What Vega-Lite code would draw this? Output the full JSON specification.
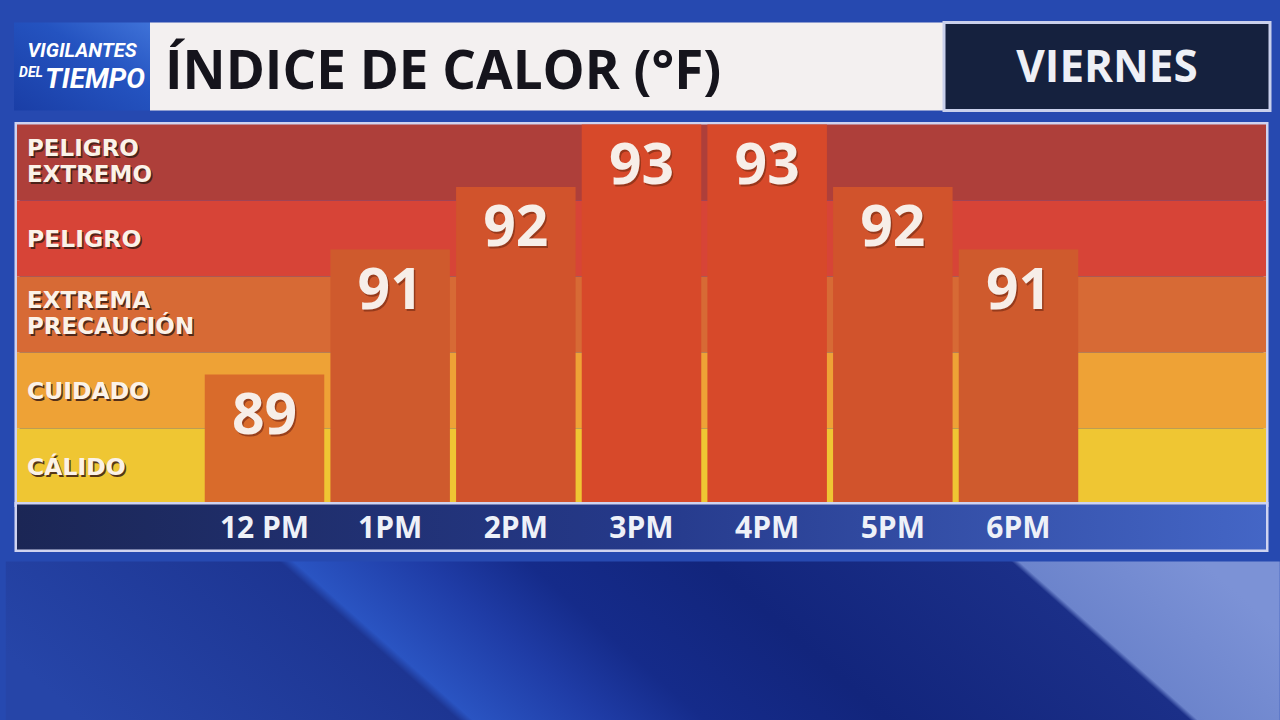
{
  "$schema": "https://vega.github.io/schema/vega-lite/v6.json",
  "background": "#2649b0",
  "padding": {"left": 5.75, "top": 20.5, "right": 0.25, "bottom": 0.5},
  "config": {"view": {"stroke": null}, "font": "Open Sans"},
  "datasets": {
    "horas": [
      {"hora": "12 PM", "indice": 89},
      {"hora": "1PM", "indice": 91},
      {"hora": "2PM", "indice": 92},
      {"hora": "3PM", "indice": 93},
      {"hora": "4PM", "indice": 93},
      {"hora": "5PM", "indice": 92},
      {"hora": "6PM", "indice": 91}
    ],
    "niveles": [
      {"nivel": "PELIGRO EXTREMO"},
      {"nivel": "PELIGRO"},
      {"nivel": "EXTREMA PRECAUCIÓN"},
      {"nivel": "CUIDADO"},
      {"nivel": "CÁLIDO"}
    ],
    "uno": [{"k": 1}]
  },
  "spacing": 9,
  "center": true,
  "vconcat": [
    {
      "spacing": 0,
      "bounds": "flush",
      "hconcat": [
        {
          "width": 136,
          "height": 88,
          "data": {"name": "uno"},
          "layer": [
            {"mark": {"type": "rect", "color": {"gradient": "linear", "x1": 0, "y1": 1, "x2": 1, "y2": 0, "stops": [{"offset": 0, "color": "#1a3ea6"}, {"offset": 0.6, "color": "#2453c0"}, {"offset": 1, "color": "#3f72d8"}]}}, "encoding": {}},
            {"mark": {"type": "text", "text": "VIGILANTES", "font": "Roboto", "fontStyle": "italic", "fontWeight": "bold", "fontSize": 20, "color": "#ffffff", "align": "center", "baseline": "middle", "dy": -16}, "encoding": {}},
            {"mark": {"type": "text", "text": "TIEMPO", "font": "Roboto", "fontStyle": "italic", "fontWeight": "bold", "fontSize": 28, "color": "#ffffff", "align": "center", "baseline": "middle", "dx": 13, "dy": 13}, "encoding": {}},
            {"mark": {"type": "text", "text": "DEL", "font": "Roboto", "fontStyle": "italic", "fontWeight": "bold", "fontSize": 14, "color": "#ffffff", "align": "center", "baseline": "middle", "dx": -51, "dy": 6}, "encoding": {}}
          ]
        },
        {
          "width": 794,
          "height": 88,
          "view": {"fill": "#f3f0f0", "stroke": null},
          "data": {"name": "uno"},
          "mark": {"type": "text", "text": "ÍNDICE DE CALOR (°F)", "font": "Open Sans", "fontWeight": "bold", "fontSize": 53, "color": "#15141c", "align": "left", "baseline": "middle", "dy": 6},
          "encoding": {"x": {"value": 15}}
        },
        {
          "width": 326,
          "height": 88,
          "view": {"fill": "#15213e", "stroke": "#c9d0ec", "strokeWidth": 3},
          "data": {"name": "uno"},
          "mark": {"type": "text", "text": "VIERNES", "font": "Open Sans", "fontWeight": "bold", "fontSize": 44, "color": "#eef0f6", "align": "center", "baseline": "middle", "dy": 2.5},
          "encoding": {}
        }
      ]
    },
    {
      "spacing": 0,
      "bounds": "flush",
      "vconcat": [
        {
          "width": 1249,
          "height": 380,
          "view": {"stroke": "#cfd3f0", "strokeWidth": 5},
          "layer": [
            {
              "data": {"name": "niveles"},
              "encoding": {
                "y": {"field": "nivel", "type": "nominal", "scale": {"domain": ["PELIGRO EXTREMO", "PELIGRO", "EXTREMA PRECAUCIÓN", "CUIDADO", "CÁLIDO"], "paddingInner": 0, "paddingOuter": 0}, "axis": null}
              },
              "layer": [
                {
                  "mark": {"type": "rect"},
                  "encoding": {
                    "color": {"field": "nivel", "type": "nominal", "scale": {"domain": ["PELIGRO EXTREMO", "PELIGRO", "EXTREMA PRECAUCIÓN", "CUIDADO", "CÁLIDO"], "range": ["#ae3f3a", "#d74437", "#d76a35", "#eea236", "#efc633"]}, "legend": null}
                  }
                },
                {
                  "transform": [{"filter": "indexof(datum.nivel, ' ') < 0"}],
                  "mark": {"type": "text", "align": "left", "baseline": "middle", "font": "DejaVu Sans", "fontWeight": "bold", "fontSize": 23.5, "color": "#3b1d14", "opacity": 0.85, "dx": 1.5, "dy": 3.5},
                  "encoding": {"x": {"value": 10}, "text": {"field": "nivel"}}
                },
                {
                  "transform": [{"filter": "indexof(datum.nivel, ' ') < 0"}],
                  "mark": {"type": "text", "align": "left", "baseline": "middle", "font": "DejaVu Sans", "fontWeight": "bold", "fontSize": 23.5, "color": "#fbf2e8", "dy": 1.5},
                  "encoding": {"x": {"value": 10}, "text": {"field": "nivel"}}
                },
                {
                  "transform": [{"filter": "indexof(datum.nivel, ' ') >= 0"}],
                  "mark": {"type": "text", "align": "left", "baseline": "middle", "font": "DejaVu Sans", "fontWeight": "bold", "fontSize": 23, "lineBreak": " ", "lineHeight": 26, "color": "#3b1d14", "opacity": 0.85, "dx": 1.5, "dy": -12},
                  "encoding": {"x": {"value": 10}, "text": {"field": "nivel"}}
                },
                {
                  "transform": [{"filter": "indexof(datum.nivel, ' ') >= 0"}],
                  "mark": {"type": "text", "align": "left", "baseline": "middle", "font": "DejaVu Sans", "fontWeight": "bold", "fontSize": 23, "lineBreak": " ", "lineHeight": 26, "color": "#fbf2e8", "dy": -13.5},
                  "encoding": {"x": {"value": 10}, "text": {"field": "nivel"}}
                }
              ]
            },
            {
              "data": {"name": "horas"},
              "encoding": {
                "x": {"field": "hora", "type": "nominal", "sort": null, "scale": {"type": "band", "domain": ["·a", "12 PM", "1PM", "2PM", "3PM", "4PM", "5PM", "6PM", "·b"], "paddingInner": 0.049, "paddingOuter": 0.494}, "axis": null},
                "y": {"field": "indice", "type": "quantitative", "stack": null, "scale": {"domain": [86.92, 93], "zero": false, "nice": false}, "axis": null}
              },
              "layer": [
                {
                  "mark": {"type": "bar"},
                  "encoding": {
                    "color": {"field": "indice", "type": "ordinal", "scale": {"domain": [89, 91, 92, 93], "range": ["#d96b2b", "#cf5a2d", "#d1532c", "#d7492a"]}, "legend": null}
                  }
                },
                {
                  "mark": {"type": "text", "font": "Open Sans", "fontWeight": "bold", "fontSize": 57, "color": "#7e2f16", "opacity": 0.7, "align": "center", "baseline": "alphabetic", "dx": 1.5, "dy": 61},
                  "encoding": {"text": {"field": "indice"}}
                },
                {
                  "mark": {"type": "text", "font": "Open Sans", "fontWeight": "bold", "fontSize": 57, "color": "#f7eee8", "align": "center", "baseline": "alphabetic", "dy": 59},
                  "encoding": {"text": {"field": "indice"}}
                }
              ]
            }
          ],
          "resolve": {"scale": {"y": "independent", "color": "independent"}}
        },
        {
          "width": 1249,
          "height": 45,
          "view": {"stroke": "#cfd3f0", "strokeWidth": 5},
          "layer": [
            {
              "data": {"name": "uno"},
              "mark": {"type": "rect", "color": {"gradient": "linear", "x1": 0, "y1": 0, "x2": 1, "y2": 0, "stops": [{"offset": 0, "color": "#1b2655"}, {"offset": 0.5, "color": "#25398a"}, {"offset": 1, "color": "#4466c6"}]}},
              "encoding": {}
            },
            {
              "data": {"name": "horas"},
              "mark": {"type": "text", "font": "Open Sans", "fontWeight": "bold", "fontSize": 30, "color": "#eef1f8", "align": "center", "baseline": "middle", "dy": 2},
              "encoding": {
                "x": {"field": "hora", "type": "nominal", "sort": null, "scale": {"type": "band", "domain": ["·a", "12 PM", "1PM", "2PM", "3PM", "4PM", "5PM", "6PM", "·b"], "paddingInner": 0.049, "paddingOuter": 0.494}, "axis": null},
                "text": {"field": "hora"}
              }
            }
          ]
        }
      ]
    },
    {
      "width": 1274,
      "height": 160,
      "data": {"name": "uno"},
      "mark": {"type": "rect", "color": {"gradient": "linear", "x1": 0, "y1": 0.5709, "x2": 1, "y2": 0.4291, "stops": [
        {"offset": 0, "color": "#2645a8"},
        {"offset": 0.29, "color": "#1d3592"},
        {"offset": 0.301, "color": "#2a54c2"},
        {"offset": 0.4, "color": "#1f3ca6"},
        {"offset": 0.48, "color": "#152b8a"},
        {"offset": 0.62, "color": "#12257c"},
        {"offset": 0.853, "color": "#1b2f88"},
        {"offset": 0.859, "color": "#6c84cc"},
        {"offset": 1, "color": "#7c92d6"}
      ]}},
      "encoding": {}
    }
  ]
}
